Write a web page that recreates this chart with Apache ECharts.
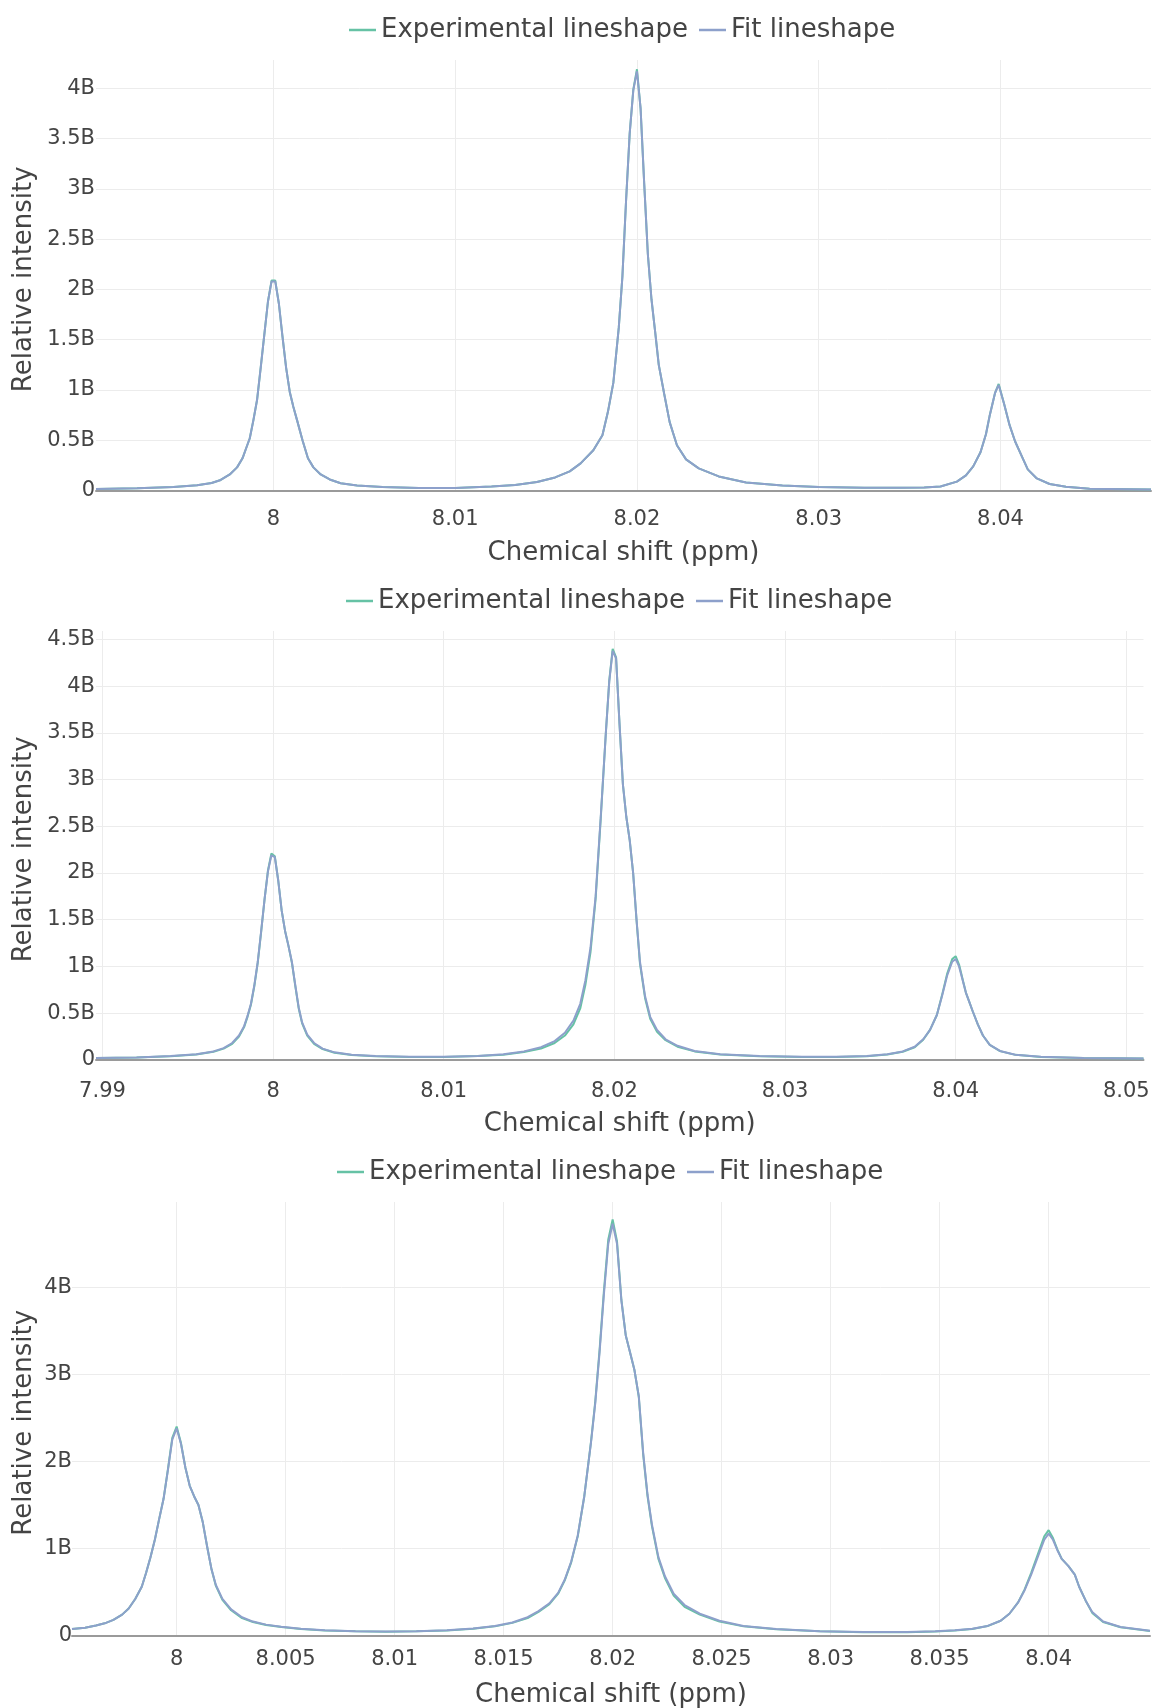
<!DOCTYPE html>
<html><head><meta charset="utf-8">
<script src="https://cdn.jsdelivr.net/npm/echarts@6/dist/echarts.min.js"></script>
<style>html,body{margin:0;padding:0;background:#fff}#c{width:1152px;height:1708px}</style>
</head><body><div id="c"></div>
<script>
// Values in billions (B) of relative intensity; x in ppm
const ppm1 = [7.99024,7.9925,7.9945,7.9958,7.9966,7.9971,7.9976,7.9980,7.9983,7.9985,7.9987,7.9989,7.9991,7.9993,7.9995,7.9997,7.9999,8.0001,8.0003,8.0005,8.0007,8.0009,8.0011,8.0013,8.0016,8.0019,8.0022,8.0026,8.0031,8.0037,8.0046,8.0060,8.0080,8.0100,8.0120,8.0133,8.0145,8.0155,8.0163,8.0169,8.0176,8.0181,8.0184,8.0187,8.0190,8.0192,8.0194,8.0196,8.0198,8.0200,8.0202,8.0204,8.0206,8.0208,8.0210,8.0212,8.0215,8.0218,8.0222,8.0227,8.0234,8.0245,8.0260,8.0280,8.0300,8.0325,8.0345,8.0358,8.0367,8.0376,8.0381,8.0385,8.0389,8.0392,8.0394,8.0397,8.0399,8.0400,8.0402,8.0405,8.0408,8.0412,8.0415,8.0420,8.0427,8.0436,8.0449,8.04828];
const fit1 = [0.015,0.022,0.035,0.052,0.075,0.105,0.16,0.23,0.32,0.42,0.52,0.70,0.90,1.22,1.55,1.88,2.08,2.08,1.86,1.53,1.22,0.98,0.83,0.70,0.50,0.32,0.23,0.16,0.11,0.072,0.05,0.035,0.026,0.026,0.04,0.055,0.085,0.13,0.19,0.27,0.40,0.55,0.78,1.07,1.62,2.13,2.88,3.55,3.98,4.17,3.80,3.05,2.35,1.90,1.58,1.25,0.96,0.68,0.45,0.31,0.22,0.14,0.08,0.05,0.035,0.028,0.027,0.03,0.04,0.088,0.15,0.24,0.38,0.56,0.74,0.97,1.05,1.05,0.86,0.65,0.49,0.33,0.21,0.12,0.065,0.038,0.018,0.01];
const exp1 = [0.015,0.022,0.035,0.052,0.075,0.105,0.16,0.23,0.32,0.42,0.52,0.70,0.90,1.22,1.55,1.88,2.09,2.09,1.86,1.53,1.22,0.98,0.83,0.70,0.50,0.32,0.23,0.16,0.11,0.072,0.05,0.035,0.026,0.026,0.04,0.055,0.085,0.13,0.19,0.27,0.40,0.55,0.78,1.07,1.62,2.13,2.88,3.55,3.99,4.19,3.80,3.05,2.35,1.90,1.58,1.25,0.96,0.68,0.45,0.31,0.22,0.14,0.08,0.05,0.035,0.028,0.027,0.03,0.04,0.088,0.15,0.24,0.38,0.56,0.74,0.97,1.06,1.06,0.86,0.65,0.49,0.33,0.21,0.12,0.065,0.038,0.018,0.01];

const ppm2 = [7.98962,7.9920,7.9940,7.9955,7.9965,7.9971,7.9976,7.9980,7.9983,7.9985,7.9987,7.9989,7.9991,7.9993,7.9995,7.9997,7.9999,8.0001,8.0003,8.0005,8.0007,8.0009,8.0011,8.0013,8.0015,8.0017,8.0020,8.0024,8.0029,8.0036,8.0046,8.0060,8.0080,8.0100,8.0120,8.0135,8.0147,8.0157,8.0165,8.0171,8.0176,8.0180,8.0183,8.0186,8.0189,8.0192,8.0195,8.0197,8.0199,8.0200,8.0201,8.0203,8.0205,8.0207,8.0209,8.0211,8.0213,8.0215,8.0218,8.0221,8.0225,8.0230,8.0237,8.0247,8.0262,8.0285,8.0310,8.0330,8.0348,8.0360,8.0369,8.0376,8.0381,8.0385,8.0389,8.0392,8.0395,8.0398,8.0400,8.0402,8.0404,8.0406,8.0408,8.0410,8.0413,8.0416,8.0420,8.0426,8.0435,8.0450,8.0475,8.05101];
const fit2 = [0.018,0.025,0.04,0.06,0.09,0.125,0.18,0.26,0.36,0.47,0.60,0.80,1.05,1.38,1.72,2.02,2.19,2.17,1.92,1.60,1.38,1.22,1.05,0.80,0.56,0.40,0.27,0.18,0.12,0.08,0.055,0.04,0.032,0.032,0.042,0.06,0.09,0.135,0.20,0.29,0.42,0.60,0.85,1.20,1.75,2.60,3.50,4.05,4.38,4.40,4.30,3.60,2.95,2.60,2.35,2.00,1.50,1.05,0.68,0.46,0.32,0.22,0.15,0.095,0.06,0.04,0.032,0.032,0.04,0.06,0.09,0.14,0.22,0.32,0.48,0.68,0.90,1.05,1.08,1.00,0.86,0.72,0.62,0.52,0.38,0.26,0.16,0.095,0.055,0.032,0.02,0.014];
const exp2 = [0.018,0.024,0.038,0.057,0.085,0.12,0.17,0.25,0.35,0.46,0.59,0.79,1.04,1.37,1.72,2.03,2.21,2.18,1.92,1.60,1.38,1.22,1.04,0.79,0.55,0.39,0.26,0.17,0.115,0.076,0.052,0.038,0.03,0.03,0.04,0.055,0.083,0.12,0.18,0.26,0.38,0.55,0.80,1.15,1.72,2.58,3.50,4.06,4.40,4.42,4.31,3.60,2.95,2.60,2.35,2.00,1.49,1.03,0.66,0.44,0.30,0.21,0.14,0.09,0.057,0.038,0.03,0.03,0.038,0.057,0.086,0.135,0.215,0.32,0.48,0.69,0.92,1.08,1.11,1.02,0.87,0.72,0.62,0.52,0.38,0.26,0.16,0.093,0.053,0.03,0.019,0.013];

const ppm3 = [7.9952,7.9958,7.9963,7.9967,7.9971,7.9975,7.9978,7.9981,7.9984,7.9986,7.9988,7.9990,7.9992,7.9994,7.9996,7.9998,8.0000,8.0002,8.0004,8.0006,8.0008,8.0010,8.0012,8.0014,8.0016,8.0018,8.0021,8.0025,8.0030,8.0035,8.0041,8.0048,8.0057,8.0068,8.0082,8.0096,8.0110,8.0124,8.0136,8.0146,8.0154,8.0161,8.0166,8.0171,8.0175,8.0178,8.0181,8.0184,8.0187,8.0190,8.0192,8.0194,8.0196,8.0198,8.0200,8.0202,8.0204,8.0206,8.0208,8.0210,8.0212,8.0214,8.0216,8.0218,8.0221,8.0224,8.0228,8.0233,8.0240,8.0249,8.0260,8.0275,8.0295,8.0315,8.0335,8.0348,8.0357,8.0365,8.0372,8.0378,8.0382,8.0386,8.0389,8.0392,8.0395,8.0398,8.0400,8.0402,8.0404,8.0406,8.0409,8.0412,8.0414,8.0417,8.0420,8.0425,8.0433,8.04465];
const fit3 = [0.075,0.09,0.115,0.14,0.18,0.24,0.31,0.42,0.56,0.72,0.90,1.10,1.34,1.57,1.90,2.25,2.38,2.20,1.93,1.72,1.60,1.50,1.30,1.02,0.76,0.58,0.42,0.30,0.21,0.16,0.125,0.10,0.078,0.06,0.05,0.046,0.05,0.06,0.08,0.11,0.15,0.21,0.28,0.37,0.49,0.64,0.85,1.15,1.60,2.20,2.66,3.25,3.92,4.50,4.73,4.50,3.85,3.45,3.25,3.05,2.75,2.10,1.62,1.28,0.90,0.68,0.48,0.35,0.25,0.17,0.11,0.075,0.05,0.04,0.04,0.048,0.06,0.077,0.11,0.17,0.25,0.38,0.52,0.70,0.90,1.10,1.17,1.10,0.98,0.88,0.80,0.70,0.56,0.40,0.27,0.16,0.098,0.055];
const exp3 = [0.075,0.09,0.115,0.14,0.18,0.24,0.31,0.42,0.56,0.72,0.90,1.10,1.34,1.57,1.91,2.27,2.40,2.21,1.93,1.72,1.60,1.50,1.30,1.02,0.76,0.57,0.41,0.29,0.20,0.155,0.12,0.097,0.075,0.058,0.048,0.044,0.048,0.058,0.077,0.105,0.145,0.20,0.27,0.36,0.48,0.63,0.84,1.14,1.60,2.21,2.68,3.28,3.96,4.55,4.78,4.53,3.86,3.45,3.25,3.05,2.74,2.08,1.60,1.26,0.88,0.66,0.46,0.33,0.24,0.16,0.105,0.072,0.048,0.038,0.038,0.046,0.058,0.075,0.108,0.17,0.25,0.38,0.53,0.72,0.93,1.14,1.21,1.12,0.99,0.88,0.80,0.70,0.56,0.40,0.26,0.155,0.095,0.053];

const seriesNames = ['Experimental lineshape', 'Fit lineshape'];
const xTitle = 'Chemical shift (ppm)';
const yTitle = 'Relative intensity';

const FONT = 'DejaVu Sans';
const TXT = '#444444';
const GRIDC = '#ececec';
const EXP_C = '#66c2a5';
const FIT_C = '#8da0cb';

const panels = [
  {ppm: ppm1, exp: exp1, fit: fit1, grid: {left: 96, top: 60, width: 1055, height: 430.5}, ymax: 4.282, yint: 0.5, split: 5, leg: {left: 349, top: 17}, yGap: 59, xGap: 49.5, lm: 19, ylm: 1},
  {ppm: ppm2, exp: exp2, fit: fit2, grid: {left: 96, top: 631, width: 1047.5, height: 428.8}, ymax: 4.592, yint: 0.5, split: 5, leg: {left: 346, top: 588}, yGap: 59, xGap: 51, lm: 21, ylm: 1},
  {ppm: ppm3, exp: exp3, fit: fit3, grid: {left: 72, top: 1202, width: 1078, height: 433.5}, ymax: 4.98, yint: 1, split: 10, leg: {left: 337, top: 1159}, yGap: 35, xGap: 46.5, lm: 14, ylm: 0}
];

const fmtY = v => v === 0 ? '0' : (+v.toFixed(2)) + 'B';

const option = {
  backgroundColor: '#ffffff',
  animation: false,
  textStyle: {fontFamily: FONT},
  grid: panels.map(p => Object.assign({outerBoundsMode: 'none', containLabel: false}, p.grid)),
  legend: panels.map(p => ({
    left: p.leg.left, top: p.leg.top, padding: 0, itemGap: 11, itemWidth: 27, itemHeight: 2.5,
    icon: 'rect', data: seriesNames,
    textStyle: {fontFamily: FONT, fontSize: 26, color: TXT}
  })),
  xAxis: panels.map((p, i) => ({
    type: 'value', gridIndex: i, min: p.ppm[0], max: p.ppm[p.ppm.length - 1], splitNumber: p.split,
    axisLine: {show: true, onZero: false, lineStyle: {color: '#9a9a9a', width: 2}},
    axisTick: {show: false},
    axisLabel: {showMinLabel: false, showMaxLabel: false, color: TXT, fontFamily: FONT, fontSize: 21, margin: p.lm},
    splitLine: {show: true, showMinLine: false, showMaxLine: false, lineStyle: {color: GRIDC, width: 1}},
    name: xTitle, nameLocation: 'middle', nameGap: p.xGap,
    nameTextStyle: {fontFamily: FONT, fontSize: 26, color: TXT}
  })),
  yAxis: panels.map((p, i) => ({
    type: 'value', gridIndex: i, min: 0, max: p.ymax, interval: p.yint,
    axisLine: {show: false}, axisTick: {show: false},
    axisLabel: {showMaxLabel: false, formatter: fmtY, color: TXT, fontFamily: FONT, fontSize: 21, margin: p.ylm},
    splitLine: {show: true, showMaxLine: false, lineStyle: {color: GRIDC, width: 1}},
    name: yTitle, nameLocation: 'middle', nameGap: p.yGap, nameMoveOverlap: false,
    nameTextStyle: {fontFamily: FONT, fontSize: 26, color: TXT, padding: [0, 8, 0, 0]}
  })),
  series: []
};

panels.forEach((p, i) => {
  [[seriesNames[0], p.exp, EXP_C, 2], [seriesNames[1], p.fit, FIT_C, 3]].forEach(([name, vals, col, z]) => {
    option.series.push({
      type: 'line', name, xAxisIndex: i, yAxisIndex: i, z,
      data: p.ppm.map((x, k) => [x, vals[k]]),
      symbol: 'none', showSymbol: false, smooth: false,
      lineStyle: {color: col, width: 2}, itemStyle: {color: col}
    });
  });
});

const chart = echarts.init(document.getElementById('c'));
chart.setOption(option);
</script>
</body></html>
